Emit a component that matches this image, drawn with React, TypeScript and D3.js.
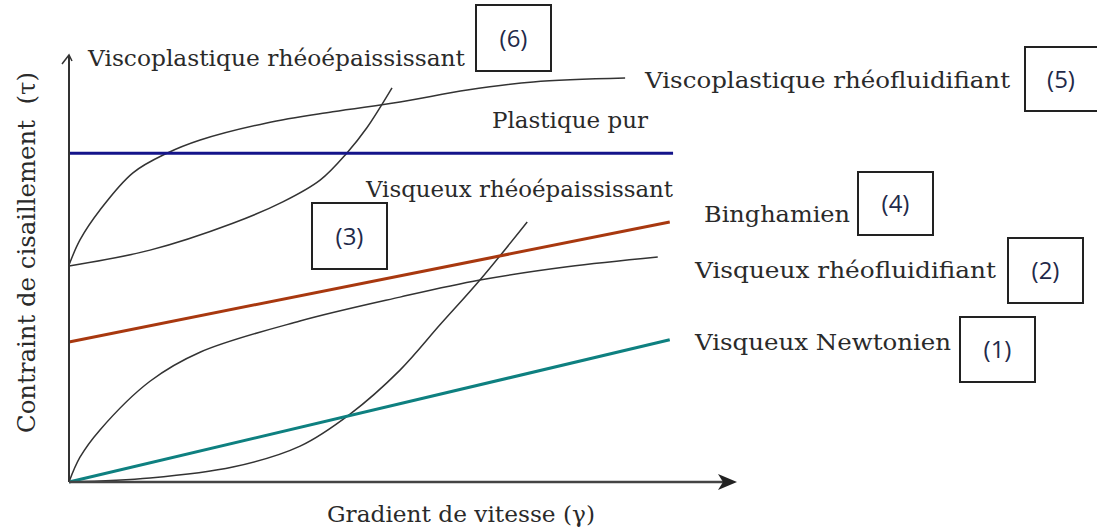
import React from "react";
import * as d3 from "d3";

// ---- data (abstract units: x = shear rate 0..100, y = shear stress 0..100) ----
const newtonien: [number, number][] = [[0, 0], [90.2, 33.3]];
const binghamien: [number, number][] = [[0, 32.8], [90.2, 60.9]];
const plastiquePur: [number, number][] = [[0, 77.0], [90.7, 77.0]];
const rheofluidifiant: [number, number][] = [
  [0, 0], [1.65, 5.8], [4.65, 12.2], [12.16, 23.6], [19.67, 30.4], [34.68, 37.7],
  [49.7, 43.3], [61.7, 47.3], [74.8, 50.4], [88.4, 52.7],
];
const rheoepaississant: [number, number][] = [
  [0, 0], [12.16, 0.94], [24.6, 3.5], [34.7, 8.4], [42.2, 15.9], [49.7, 26.2],
  [55.7, 36.8], [61.7, 47.3], [68.8, 60.9],
];
const viscoFluidifiant: [number, number][] = [
  [0, 50.8], [1.65, 56.7], [4.65, 63.7], [9.6, 72.4], [14.7, 77.0], [19.7, 80.1],
  [29.7, 84.1], [39.6, 86.7], [49.7, 89.0], [59.8, 91.8], [69.7, 93.7], [83.5, 94.6],
];
const viscoEpaississant: [number, number][] = [
  [0, 50.6], [12.16, 54.3], [24.6, 60.6], [32.1, 65.6], [37.7, 70.7], [41.7, 77.0],
  [44.7, 82.9], [48.5, 92.3],
];

const labels = [
  "Viscoplastique rhéoépaississant",
  "Viscoplastique rhéofluidifiant",
  "Plastique pur",
  "Visqueux rhéoépaississant",
  "Binghamien",
  "Visqueux rhéofluidifiant",
  "Visqueux Newtonien",
];
const boxNumbers = ["(6)", "(5)", "(4)", "(3)", "(2)", "(1)"];
const xTitle = "Gradient de vitesse (γ)";
const yTitle = "Contraint de cisaillement  (τ)";

export default function App() {
  const W = 1097, H = 532;
  const x = d3.scaleLinear().domain([0, 100]).range([69, 735]);
  const y = d3.scaleLinear().domain([0, 100]).range([482, 55]);
  const line = d3.line<[number, number]>().x((d) => x(d[0])).y((d) => y(d[1]));
  const smooth = d3
    .line<[number, number]>()
    .x((d) => x(d[0]))
    .y((d) => y(d[1]))
    .curve(d3.curveCatmullRom.alpha(0.5));

  const serif = "'DejaVu Serif', serif";
  const sans = "'Open Sans', 'Liberation Sans', sans-serif";
  const textColor = "#2a2a2a";

  // label placements [x, baseline, width]
  const labelPos: [number, number, number][] = [
    [88, 66, 377],
    [645, 88, 365],
    [492, 128, 156],
    [366, 197, 307],
    [704, 222, 146],
    [695, 278, 301],
    [695, 350, 256],
  ];
  // boxes [x, y, w, h]
  const boxPos: [number, number, number, number][] = [
    [476, 5, 75, 66],
    [1025, 47, 74, 64],
    [858, 172, 75, 63],
    [312, 203, 75, 66],
    [1008, 238, 75, 65],
    [960, 317, 75, 65],
  ];

  return (
    <svg
      width={W}
      height={H}
      style={{ position: "absolute", left: 0, top: 0, background: "#fff" }}
    >
      <rect x={0} y={0} width={W} height={H} fill="#fff" />

      {/* curves */}
      <path d={smooth(viscoFluidifiant) || ""} fill="none" stroke="#333" strokeWidth={1.5} />
      <path d={smooth(viscoEpaississant) || ""} fill="none" stroke="#333" strokeWidth={1.5} />
      <path d={smooth(rheofluidifiant) || ""} fill="none" stroke="#333" strokeWidth={1.5} />
      <path d={smooth(rheoepaississant) || ""} fill="none" stroke="#333" strokeWidth={1.5} />

      {/* straight lines */}
      <path d={line(plastiquePur) || ""} fill="none" stroke="#14148a" strokeWidth={3} />
      <path d={line(binghamien) || ""} fill="none" stroke="#a8380f" strokeWidth={3} />
      <path d={line(newtonien) || ""} fill="none" stroke="#0e8080" strokeWidth={3} />

      {/* axes */}
      <line x1={x(0)} y1={y(0)} x2={x(0)} y2={y(100)} stroke="#333" strokeWidth={2} />
      <path
        d={`M${x(0) - 7},${y(100) + 9} L${x(0)},${y(100)} L${x(0) + 3},${y(100) + 6}`}
        fill="none"
        stroke="#333"
        strokeWidth={1.5}
      />
      <line x1={x(0)} y1={y(0)} x2={x(100) - 6} y2={y(0)} stroke="#444" strokeWidth={2.5} />
      <path
        d={`M${x(100) + 2},${y(0)} L${x(100) - 17},${y(0) - 8} L${x(100) - 12},${y(0)} L${x(100) - 17},${y(0) + 8} Z`}
        fill="#222"
      />

      {/* curve labels */}
      {labels.map((t, i) => (
        <text
          key={t}
          x={labelPos[i][0]}
          y={labelPos[i][1]}
          fontFamily={serif}
          fontSize={23}
          fill={textColor}
          textLength={labelPos[i][2]}
          lengthAdjust="spacingAndGlyphs"
        >
          {t}
        </text>
      ))}

      {/* numbered boxes */}
      {boxNumbers.map((n, i) => {
        const [bx, by, bw, bh] = boxPos[i];
        return (
          <g key={n}>
            <rect x={bx} y={by} width={bw} height={bh} fill="#fff" stroke="#222" strokeWidth={2} />
            <text
              x={bx + (i === 1 ? 36 : bw / 2)}
              y={by + bh / 2}
              dy="0.36em"
              textAnchor="middle"
              fontFamily={sans}
              fontSize={24}
              fill="#1f2a4a"
            >
              {n}
            </text>
          </g>
        );
      })}

      {/* axis titles */}
      <text
        x={327}
        y={522}
        fontFamily={serif}
        fontSize={23}
        fill={textColor}
        textLength={268}
        lengthAdjust="spacingAndGlyphs"
      >
        {xTitle}
      </text>
      <text
        transform={`translate(35,433) rotate(-90)`}
        fontFamily={serif}
        fontSize={24}
        fill={textColor}
        textLength={361}
        lengthAdjust="spacingAndGlyphs"
        style={{ whiteSpace: "pre" }}
      >
        {yTitle}
      </text>
    </svg>
  );
}
